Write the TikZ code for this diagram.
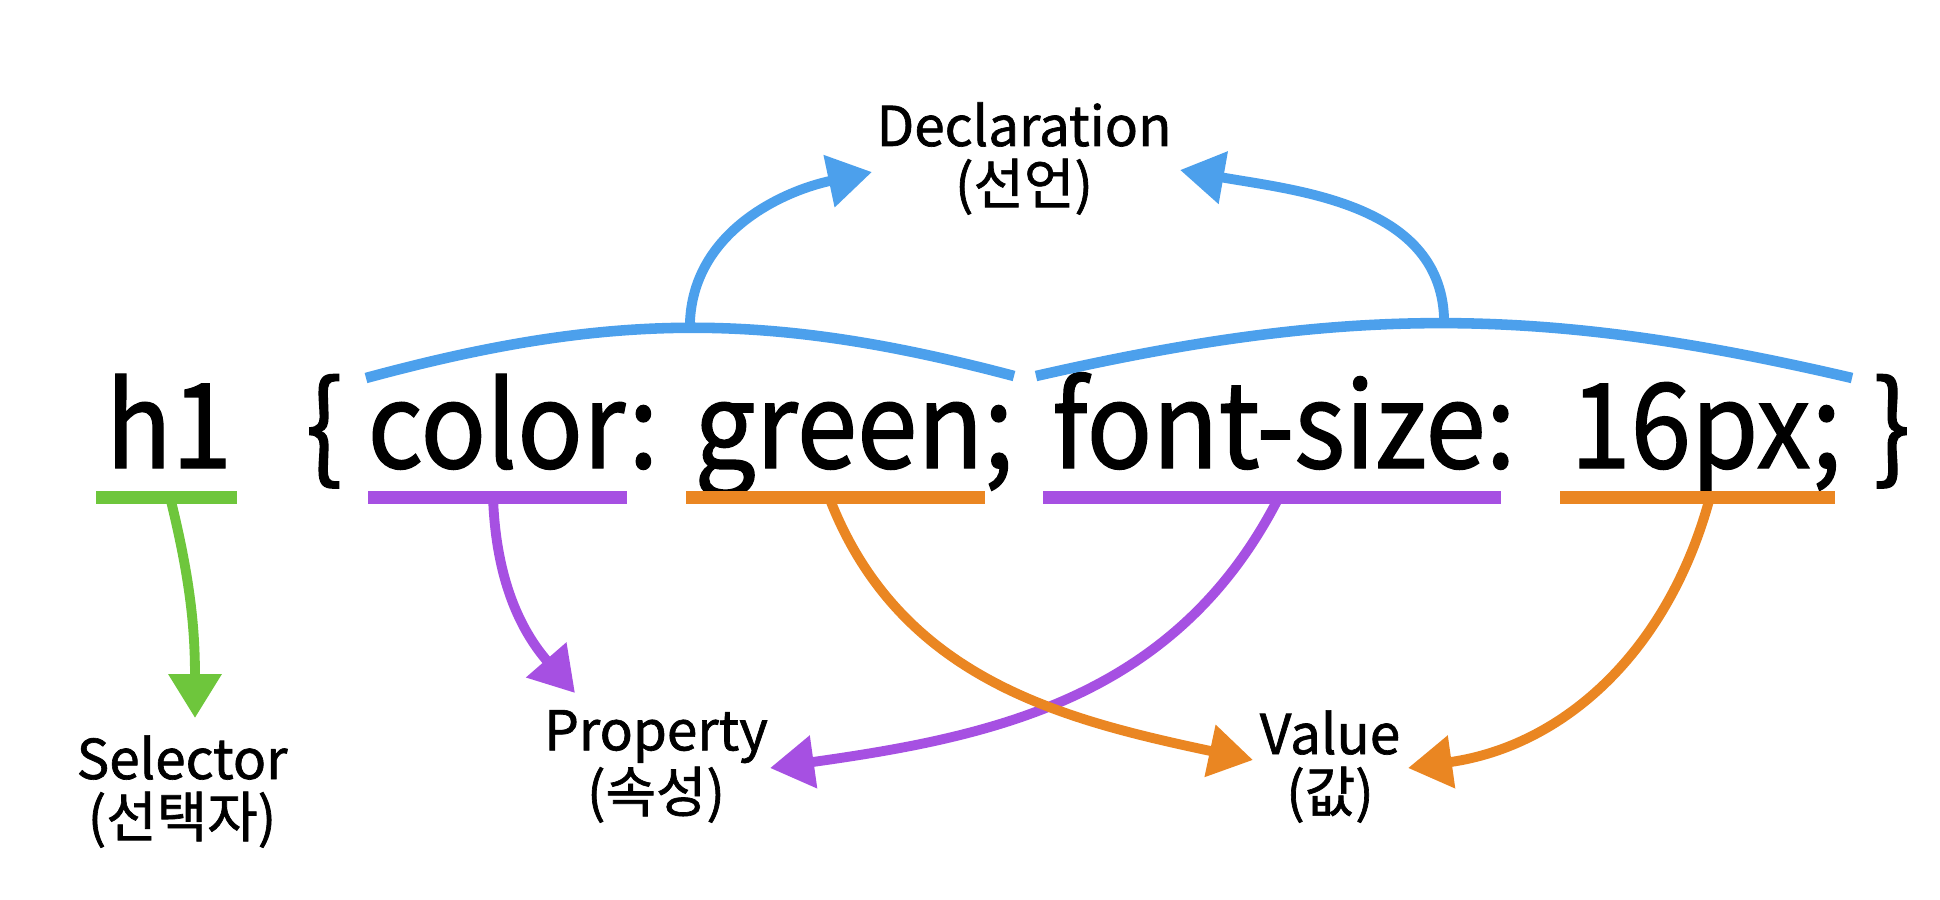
\documentclass[tikz,border=0pt]{standalone}
\usepackage{fontspec}
\setmainfont{Noto Sans CJK KR}[FakeBold=1.2]
\usetikzlibrary{arrows.meta}
\definecolor{declBlue}{RGB}{76,160,236}
\definecolor{selGreen}{RGB}{110,198,60}
\definecolor{propPurple}{RGB}{166,80,226}
\definecolor{valOrange}{RGB}{234,134,34}

\begin{document}
\begin{tikzpicture}[
    x=0.01cm, y=0.01cm,
    code/.style={anchor=base, inner sep=0pt, xscale=0.92,
                 font=\fontsize{33.6}{40}\selectfont},
    label/.style={anchor=base, align=center, inner sep=0pt,
                  font=\fontsize{15.6}{16.5}\selectfont},
    uline/.style={line width=3.7pt},
    conn/.style={line width=2.8pt, -{Triangle[length=12.5pt,width=14.5pt]}}
]
    \useasboundingbox (0,0) rectangle (1940,-899);

    % code line
    \node[code] (h1)    at (169,-468)  {h1};
    \node[code] (open)  at (324,-468)  {\{};
    \node[code] (prop1) at (513,-468)  {color:};
    \node[code] (val1)  at (854,-468)  {green;};
    \node[code] (prop2) at (1284,-468) {font-size:};
    \node[code] (val2)  at (1706,-468) {16px;};
    \node[code] (close) at (1892,-468) {\}};

    % labels (anchored at the second line)
    \node[label] (decl) at (1024,-204) {Declaration\\(선언)};
    \node[label] (sel)  at (182,-837)  {Selector\\(선택자)};
    \node[label] (prop) at (656,-812)  {Property\\(속성)};
    \node[label] (val)  at (1330,-812) {Value\\(값)};

    % underlines
    \coordinate (selA) at (96,-497);    \coordinate (selB) at (237,-497);
    \coordinate (pA) at (368,-497);     \coordinate (pB) at (627,-497);
    \coordinate (vA) at (686,-497);     \coordinate (vB) at (985,-497);
    \coordinate (qA) at (1043,-497);    \coordinate (qB) at (1501,-497);
    \coordinate (wA) at (1560,-497);    \coordinate (wB) at (1835,-497);
    \draw[uline, selGreen] (selA) -- (selB);
    \draw[uline, propPurple] (pA) -- (pB);
    \draw[uline, valOrange] (vA) -- (vB);
    \draw[uline, propPurple] (qA) -- (qB);
    \draw[uline, valOrange] (wA) -- (wB);

    % stems
    \coordinate (selS) at (170,-497);
    \coordinate (pS) at (493,-497);
    \coordinate (vS) at (829,-497);
    \coordinate (qS) at (1279,-497);
    \coordinate (wS) at (1710,-497);
    \coordinate (selT) at (195,-718);
    \coordinate (pT) at (575,-693);
    \coordinate (qT) at (770,-768);
    \coordinate (vT) at (1253,-760);
    \coordinate (wT) at (1408,-768);
    \draw[conn, selGreen] (selS) to[out=-76, in=90] (selT);
    \draw[conn, propPurple] (pS) to[out=-88, in=131] (pT);
    \draw[conn, propPurple] (qS) to[out=-117, in=8] (qT);
    \draw[conn, valOrange] (vS) to[out=-69, in=168] (vT);
    \draw[conn, valOrange] (wS) to[out=-105, in=8] (wT);

    % declaration braces
    \coordinate (dA) at (366,-378);  \coordinate (dB) at (1014,-376);
    \coordinate (eA) at (1036,-376); \coordinate (eB) at (1852,-378);
    \coordinate (dT) at (872,-172);  \coordinate (eT) at (1180,-170);
    \draw[declBlue, line width=3pt] (dA) to[bend left=15] coordinate (dM) (dB);
    \draw[declBlue, line width=3pt] (eA) to[bend left=13] coordinate (eM) (eB);
    \draw[conn, declBlue] (dM) to[out=90, in=192] (dT);
    \draw[conn, declBlue] (eM) to[out=90, in=-10] (eT);
\end{tikzpicture}
\end{document}
